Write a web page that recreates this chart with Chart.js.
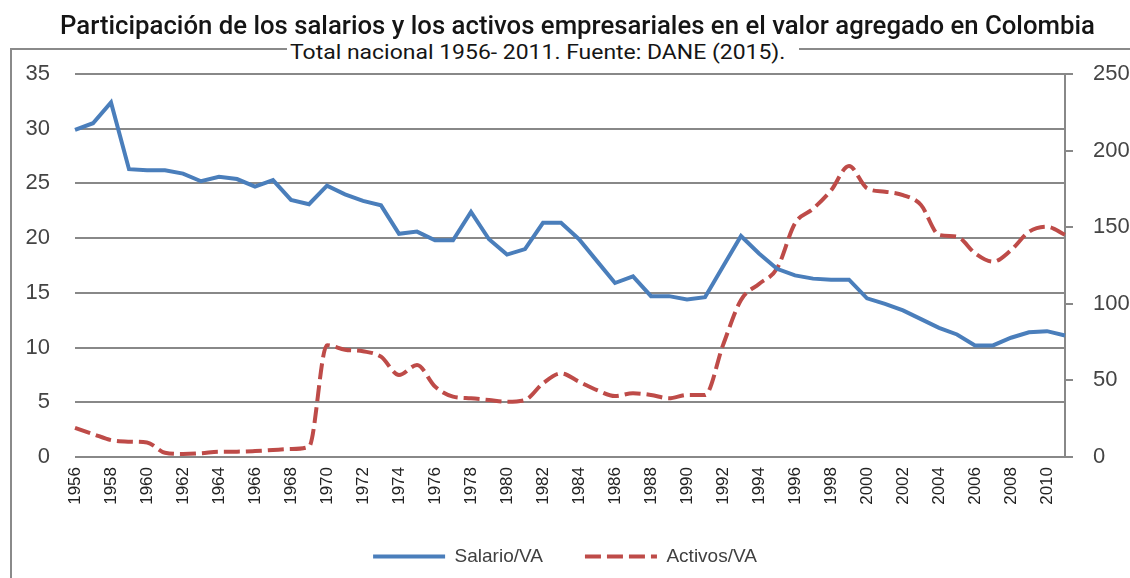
<!DOCTYPE html>
<html>
<head>
<meta charset="utf-8">
<script src="https://cdn.jsdelivr.net/npm/chart.js@4.4.0/dist/chart.umd.min.js"></script>
<style>
  html, body { margin: 0; padding: 0; background: #fff; overflow: hidden; width: 1130px; height: 578px; }
  #frame { position: absolute; left: 10px; top: 48px; width: 1200px; height: 600px;
           border-left: 2px solid #8a8a8a; border-top: 2px solid #8a8a8a; }
  #chart { position: absolute; left: 0; top: 0; }
  .txt { position: absolute; white-space: nowrap; font-family: Roboto, "Liberation Sans", sans-serif;
         color: #151515; transform-origin: 0 0; }
  #title { font-size: 25px; line-height: 25px; top: 13px; font-weight: 500; }
  #subbox { position: absolute; left: 287px; top: 40px; width: 512px; height: 28px; background: #fff; }
  #subtitle { font-size: 21px; line-height: 21px; top: 42px; font-weight: 400; }
</style>
</head>
<body>
<div id="frame"></div>
<canvas id="chart" width="1130" height="578"></canvas>
<div id="title" class="txt">Participación de los salarios y los activos empresariales en el valor agregado en Colombia</div>
<div id="subbox"></div>
<div id="subtitle" class="txt">Total nacional 1956- 2011. Fuente: DANE (2015).</div>
<script>
// Years on the category axis
const years = [
  1956, 1957, 1958, 1959, 1960, 1961, 1962, 1963, 1964, 1965,
  1966, 1967, 1968, 1969, 1970, 1971, 1972, 1973, 1974, 1975,
  1976, 1977, 1978, 1979, 1980, 1981, 1982, 1983, 1984, 1985,
  1986, 1987, 1988, 1989, 1990, 1991, 1992, 1993, 1994, 1995,
  1996, 1997, 1998, 1999, 2000, 2001, 2002, 2003, 2004, 2005,
  2006, 2007, 2008, 2009, 2010, 2011
];

// Salario / valor agregado (eje izquierdo)
const salarioVA = [
  29.9, 30.5, 32.4, 26.3, 26.2, 26.2, 25.9, 25.2, 25.6, 25.4,
  24.7, 25.3, 23.5, 23.1, 24.8, 24.0, 23.4, 23.0, 20.4, 20.6,
  19.8, 19.8, 22.4, 19.9, 18.5, 19.0, 21.4, 21.4, 19.9, 17.9,
  15.9, 16.5, 14.7, 14.7, 14.4, 14.6, 17.4, 20.2, 18.6, 17.2,
  16.6, 16.3, 16.2, 16.2, 14.5, 14.0, 13.4, 12.6, 11.8, 11.2,
  10.2, 10.2, 10.9, 11.4, 11.5, 11.1
];

// Activos / valor agregado (eje derecho)
const activosVA = [
  19.0, 15.0, 11.0, 10.0, 9.5, 2.8, 2.0, 2.4, 3.5, 3.5,
  3.9, 4.6, 5.2, 6.7, 73.0, 70.0, 69.0, 65.5, 53.5, 60.0,
  46.0, 39.4, 38.3, 37.2, 36.1, 37.2, 48.1, 54.6, 49.2, 43.7,
  39.8, 41.6, 40.5, 38.3, 40.5, 40.5, 73.0, 102.5, 113.0, 123.0,
  152.5, 162.0, 174.0, 190.0, 175.4, 173.2, 171.0, 164.5, 145.0, 143.8,
  133.0, 127.5, 135.0, 147.0, 150.3, 145.0
];

// Axis ranges and tick steps
const leftAxis = { min: 0, max: 35, step: 5 };
const rightAxis = { min: 0, max: 250, step: 50 };

// Fit the heading lines horizontally to a condensed width
function condense(id, left, width) {
  const el = document.getElementById(id);
  const w = el.offsetWidth;
  el.style.left = left + 'px';
  el.style.transform = 'scaleX(' + (width / w) + ')';
}
condense('title', 60, 1035);
condense('subtitle', 290, 495);

const sans = '"Liberation Sans", Arial, sans-serif';
const tickFont = { family: sans, size: 22 };
const gridGrey = '#888888';

// Legend entries drawn as line samples carrying each series' stroke and dash
function legendLines(chart) {
  const items = Chart.defaults.plugins.legend.labels.generateLabels(chart);
  items.forEach(item => {
    const ds = chart.data.datasets[item.datasetIndex];
    item.lineDash = ds.borderDash || [];
    item.lineWidth = ds.borderWidth;
    item.strokeStyle = ds.borderColor;
    item.fillStyle = ds.borderColor;
    item.lineCap = 'butt';
  });
  return items;
}

new Chart(document.getElementById('chart'), {
  type: 'line',
  data: {
    labels: years,
    datasets: [
      {
        label: 'Salario/VA',
        data: salarioVA,
        yAxisID: 'y',
        borderColor: '#4a7ebb',
        backgroundColor: '#4a7ebb',
        borderWidth: 4,
        pointRadius: 0,
        tension: 0,
        fill: false
      },
      {
        label: 'Activos/VA',
        data: activosVA,
        yAxisID: 'y1',
        borderColor: '#be4b48',
        backgroundColor: '#be4b48',
        borderWidth: 4,
        borderDash: [16, 6],
        pointRadius: 0,
        cubicInterpolationMode: 'monotone',
        fill: false
      }
    ]
  },
  options: {
    responsive: false,
    animation: false,
    devicePixelRatio: 1,
    layout: { padding: { top: 74, bottom: 2, left: 0, right: 0 } },
    plugins: {
      legend: {
        position: 'bottom',
        labels: {
          usePointStyle: true,
          pointStyle: 'line',
          pointStyleWidth: 72,
          padding: 42,
          color: '#404040',
          font: { family: sans, size: 19 },
          generateLabels: legendLines
        }
      },
      tooltip: { enabled: false }
    },
    scales: {
      x: {
        grid: { display: false, drawTicks: false },
        border: { display: false },
        ticks: {
          autoSkip: false,
          minRotation: 90,
          maxRotation: 90,
          padding: 10,
          color: '#222',
          font: { family: sans, size: 17 },
          callback: (v, i) => (i % 2 === 0 ? String(years[i]) : '')
        },
        afterFit: s => { s.height = 48; }
      },
      y: {
        position: 'left',
        min: leftAxis.min,
        max: leftAxis.max,
        ticks: { stepSize: leftAxis.step, padding: 25, color: '#444', font: tickFont },
        grid: { color: gridGrey, lineWidth: 2, drawTicks: false },
        border: { display: false },
        afterFit: s => { s.width = 75; }
      },
      y1: {
        position: 'right',
        min: rightAxis.min,
        max: rightAxis.max,
        ticks: { stepSize: rightAxis.step, padding: 20, color: '#444', font: tickFont },
        grid: { drawOnChartArea: false, drawTicks: true, tickLength: 8, color: gridGrey, lineWidth: 2 },
        border: { display: true, color: gridGrey, width: 2 },
        afterFit: s => { s.width = 65; }
      }
    }
  }
});
</script>
</body>
</html>
